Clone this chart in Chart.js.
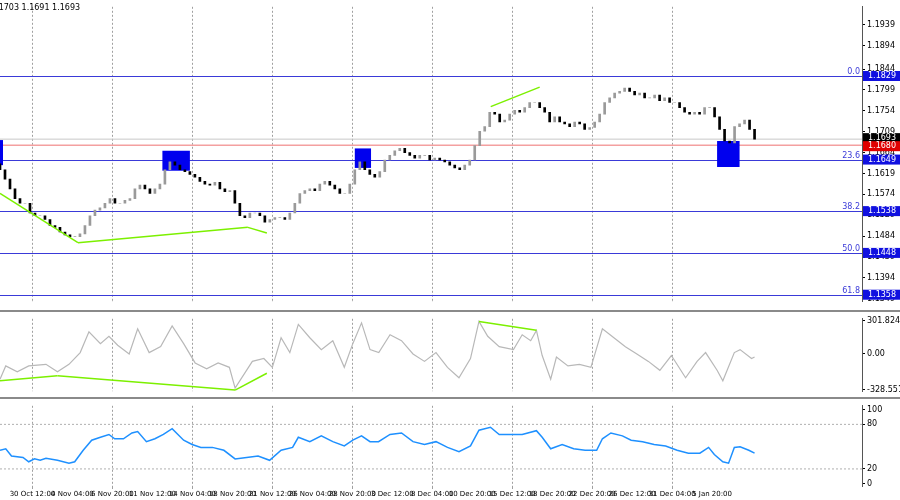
<!DOCTYPE html>
<html><head><meta charset="utf-8">
<script src="https://cdn.jsdelivr.net/npm/chart.js@4"></script>
<style>
html,body{margin:0;padding:0;background:#fff;}
#wrap{position:relative;width:900px;height:500px;overflow:hidden;font-family:Tahoma,"DejaVu Sans",sans-serif;}
.pane{position:absolute;left:0;width:900px;}
#p1{top:0;height:308px;}
#p2{top:310px;height:86px;border-top:2px solid #8a8a8a;}
#p3{top:397px;height:103px;border-top:2px solid #8a8a8a;}
</style></head><body>
<div id="wrap">
<div class="pane" id="p1"><canvas id="c1"></canvas></div>
<div class="pane" id="p2"><canvas id="c2"></canvas></div>
<div class="pane" id="p3"><canvas id="c3"></canvas></div>
</div>
<script>
// --- data (4H EURUSD, one candle = 2 bar slots) ---
const OPEN0 = 1.1640;
const CLOSE = [
 1.1627,1.1607,1.1586,1.1565,1.1555,1.1555,1.1534,1.1528,1.1528,1.1520,1.1507,1.1503,1.1493,1.1487,1.1483,1.1483,
 1.1489,1.1507,1.1528,1.1540,1.1545,1.1555,1.1565,1.1555,1.1555,1.1561,1.1565,1.1586,1.1594,1.1586,1.1576,1.1586,
 1.1596,1.1627,1.1644,1.1637,1.1627,1.1623,1.1617,1.1611,1.1602,1.1596,1.1594,1.1600,1.1586,1.1580,1.1582,1.1555,
 1.1528,1.1524,1.1534,1.1534,1.1528,1.1514,1.1520,1.1524,1.1524,1.1520,1.1534,1.1555,1.1576,1.1582,1.1586,1.1582,
 1.1596,1.1602,1.1594,1.1586,1.1576,1.1576,1.1596,1.1627,1.1644,1.1627,1.1617,1.1611,1.1623,1.1648,1.1658,1.1668,
 1.1673,1.1664,1.1658,1.1652,1.1658,1.1658,1.1648,1.1652,1.1648,1.1644,1.1637,1.1631,1.1627,1.1637,1.1648,1.1679,
 1.1710,1.1720,1.1751,1.1747,1.1730,1.1734,1.1747,1.1755,1.1751,1.1761,1.1772,1.1772,1.1761,1.1751,1.1730,1.1741,
 1.1730,1.1726,1.1720,1.1730,1.1726,1.1714,1.1718,1.1730,1.1747,1.1772,1.1782,1.1792,1.1796,1.1803,1.1796,1.1788,
 1.1792,1.1782,1.1782,1.1788,1.1776,1.1782,1.1772,1.1772,1.1761,1.1751,1.1747,1.1751,1.1747,1.1761,1.1761,1.1741,
 1.1714,1.1689,1.1685,1.1720,1.1726,1.1734,1.1714,1.1693
];
const CCI_X = [0,2.3,6.9,11.5,18.4,23,27.6,32.1,35.6,40.2,43.6,47.1,51.7,55.1,59.7,64.3,68.9,73.5,78.1,82.7,87.3,91.8,94.1,101,105.6,109,112.5,116,119.4,124,128.6,133.2,137.8,141.2,144.7,148.1,151.6,156.1,160.7,165.3,169.9,174.5,179.1,183.7,188.3,191.7,195.2,199.8,205.5,209,212.4,214.7,217,220.4,222.7,227.3,231.9,236.5,241.1,245.7,250.3,254.9,259.5,264.1,268.7,274.4,279,282.4,287,289.3,293.9,296.2,300.8,302];
const CCI = [-231,-110,-164,-110,-96,-164,-96,11,200,92,159,78,-2,227,11,65,254,92,-83,-137,-83,-123,-312,-69,-43,-123,146,11,267,146,38,119,-123,92,281,38,11,173,119,-2,-69,11,-123,-218,-43,294,159,65,38,173,119,213,-16,-231,-29,-110,-96,-123,227,146,65,-2,-69,-150,-16,-218,-69,11,-150,-245,11,38,-43,-29];
const RSI_X = [0,10,20,40,50,60,70,80,100,120,130,145,160,175,190,200,215,230,240,255,270,285,300,320,335,350,370,390,410,430,450,470,490,510,520,540,560,580,600,615,630,645,660,680,700,720,740,760,780,800,820,835,855,870,890,910,935,945,960,980,1000,1020,1040,1050,1065,1085,1100,1120,1140,1160,1180,1200,1220,1235,1245,1260,1270,1280,1290,1305,1315].map(v => +(v / 4.355).toFixed(1));
const RSI = [45.1,47.1,37.4,35.4,29.6,33.5,31.6,34.3,31.6,27.7,29.6,45.1,58.7,62.6,66.4,60.6,60.6,68.4,70.3,56.7,60.6,66.4,74.2,58.7,52.9,49,49,45.1,33.5,35.4,37.4,31.6,45.1,49,62.6,56.7,64.5,56.7,50.9,58.7,64.5,56.7,56.7,66.4,68.4,56.7,52.9,56.7,49,43.2,50.9,72.2,76.1,66.4,66.4,66.4,71.5,62.6,47.1,52.9,47.1,45.1,45.1,60.6,68.4,64.5,58.7,56.7,52.9,50.9,45.1,41.2,41.2,49,39.3,29.6,27.7,49,49.8,45.1,41.2];
const PRICE_TICKS = [1.1939,1.1894,1.1844,1.1799,1.1754,1.1709,1.1664,1.1619,1.1574,1.1529,1.1484,1.1439,1.1394,1.1349];
const CCI_TICKS = [-328.551, 0, 301.8242];
const RSI_TICKS = [0, 20, 80, 100];
const DATE_LABELS = ['30 Oct 12:00','4 Nov 04:00','6 Nov 20:00','11 Nov 12:00','14 Nov 04:00','18 Nov 20:00','21 Nov 12:00','26 Nov 04:00','28 Nov 20:00','3 Dec 12:00','8 Dec 04:00','10 Dec 20:00','15 Dec 12:00','18 Dec 20:00','22 Dec 20:00','26 Dec 12:00','31 Dec 04:00','5 Jan 20:00'];
const FIBO = [['0.0',1.1829],['23.6',1.1649],['38.2',1.1538],['50.0',1.1448],['61.8',1.1358]];
const BOXES = [[-1,1.2,1.1691,1.1637],[65,76,1.1668,1.1625],[142,148.5,1.1673,1.1631],[287,296,1.1689,1.1633]];
const PRICE_TREND = [[[0,1.1576],[31.2,1.1470]],[[31.2,1.1470],[99.2,1.1503]],[[99.2,1.1503],[106.8,1.1491]],[[196.4,1.1763],[216,1.1805]]];
const CCI_TREND = [[[0,-245],[23,-199]],[[23,-199],[94.1,-330]],[[94.1,-330],[106.8,-177]],[[191.7,294],[214.7,213]]];

const FONT = {family: 'Tahoma, "DejaVu Sans", sans-serif', size: 8};
const XFONT = {family: 'Tahoma, "DejaVu Sans", sans-serif', size: 7};
const XMAX = 345;
const DATE_IDX = DATE_LABELS.map((_, i) => 13 + 16 * i);

const bodies = CLOSE.map((c, i) => ({x: 2 * i, y: [i ? CLOSE[i - 1] : OPEN0, c]}));

function xScale(showLabels) {
    return {
        type: 'linear', min: 0, max: XMAX, offset: false,
        afterBuildTicks: s => { s.ticks = DATE_IDX.map(v => ({value: v})); },
        afterFit: s => { s.height = showLabels ? 16 : 0; },
        ticks: {display: showLabels, font: XFONT, color: '#000', maxRotation: 0, autoSkip: false, padding: 1,
                callback: (v) => DATE_LABELS[DATE_IDX.indexOf(v)] || ''},
        grid: {offset: false, color: c => (c.index % 2 === 0 ? '#a0a0a0' : 'rgba(0,0,0,0)'), tickLength: showLabels ? 3 : 0, lineWidth: 1},
        border: {display: false, dash: [2, 2]}
    };
}
function yScale(min, max, ticks, fmt) {
    return {
        position: 'right', min, max,
        afterBuildTicks: s => { s.ticks = ticks.map(v => ({value: v})); },
        afterFit: s => { s.width = 38; },
        ticks: {font: FONT, color: '#000', padding: 2, callback: fmt},
        grid: {drawOnChartArea: false, tickLength: 3, color: '#000'},
        border: {display: true, color: '#555', width: 1}
    };
}

function line(ctx, x, y, x2, y2, color, w, dash) {
    ctx.save(); ctx.strokeStyle = color; ctx.lineWidth = w; ctx.setLineDash(dash || []);
    ctx.beginPath(); ctx.moveTo(x, y); ctx.lineTo(x2, y2); ctx.stroke(); ctx.restore();
}
function tag(ctx, ca, y, text, bg) {
    ctx.fillStyle = bg; ctx.fillRect(ca.right + 1, y - 5, 37, 10);
    ctx.fillStyle = '#fff'; ctx.font = '8px Tahoma, "DejaVu Sans", sans-serif';
    ctx.textBaseline = 'middle'; ctx.textAlign = 'left'; ctx.fillText(text, ca.right + 6, y);
}

const priceDraw = {
    id: 'priceDraw',
    beforeDatasetsDraw(chart) {
        const {ctx, chartArea: ca, scales: {x, y}} = chart;
        line(ctx, ca.left, y.getPixelForValue(1.1693), ca.right, y.getPixelForValue(1.1693), '#c8c8c8', 1);
        line(ctx, ca.left, y.getPixelForValue(1.1680), ca.right, y.getPixelForValue(1.1680), '#f4a0a0', 1.5);
        FIBO.forEach(([lbl, v]) => {
            const py = Math.round(y.getPixelForValue(v)) + 0.5;
            line(ctx, ca.left, py, ca.right, py, '#3a3ad8', 1);
            ctx.fillStyle = '#3a3ad8'; ctx.font = '8px Tahoma, "DejaVu Sans", sans-serif';
            ctx.textAlign = 'right'; ctx.textBaseline = 'bottom'; ctx.fillText(lbl, ca.right - 2, py - 1);
        });
        BOXES.forEach(([a, b, hi, lo]) => {
            ctx.fillStyle = '#0000ee';
            const x1 = x.getPixelForValue(a), y1 = y.getPixelForValue(hi);
            ctx.fillRect(x1, y1, x.getPixelForValue(b) - x1, y.getPixelForValue(lo) - y1);
        });
    },
    afterDatasetsDraw(chart) {
        const {ctx, chartArea: ca, scales: {x, y}} = chart;
        PRICE_TREND.forEach(([p, q]) => line(ctx, x.getPixelForValue(p[0]), y.getPixelForValue(p[1]),
            x.getPixelForValue(q[0]), y.getPixelForValue(q[1]), '#7cf000', 1.5));
        FIBO.forEach(([, v]) => tag(ctx, ca, y.getPixelForValue(v), v.toFixed(4), '#1010e0'));
        tag(ctx, ca, y.getPixelForValue(1.1693) - 1, '1.1693', '#000');
        tag(ctx, ca, y.getPixelForValue(1.1680) + 1, '1.1680', '#e00000');
        ctx.fillStyle = '#000'; ctx.font = '8px Tahoma, "DejaVu Sans", sans-serif';
        ctx.textAlign = 'left'; ctx.textBaseline = 'top'; ctx.fillText('1.1703 1.1691 1.1693', -9, 4);
    }
};
const cciDraw = {
    id: 'cciDraw',
    afterDatasetsDraw(chart) {
        const {ctx, scales: {x, y}} = chart;
        CCI_TREND.forEach(([p, q]) => line(ctx, x.getPixelForValue(p[0]), y.getPixelForValue(p[1]),
            x.getPixelForValue(q[0]), y.getPixelForValue(q[1]), '#7cf000', 1.5));
    }
};
const rsiDraw = {
    id: 'rsiDraw',
    beforeDatasetsDraw(chart) {
        const {ctx, chartArea: ca, scales: {y}} = chart;
        [80, 20].forEach(v => line(ctx, ca.left, y.getPixelForValue(v), ca.right, y.getPixelForValue(v), '#b0b0b0', 1, [2, 2]));
    }
};

const common = {
    responsive: true, maintainAspectRatio: false, animation: false,
    layout: {padding: 0},
    plugins: {legend: {display: false}, tooltip: {enabled: false}}
};

new Chart(document.getElementById('c1'), {
    type: 'bar',
    data: {datasets: [{
        data: bodies, parsing: {xAxisKey: 'x', yAxisKey: 'y'},
        backgroundColor: bodies.map(b => (b.y[1] >= b.y[0] ? '#9a9a9a' : '#000')),
        barThickness: 2, grouped: false, borderSkipped: false
    }]},
    options: {...common,
        scales: {x: xScale(false), y: yScale(1.1344, 1.1978, PRICE_TICKS, v => v.toFixed(4))}},
    plugins: [priceDraw]
});

new Chart(document.getElementById('c2'), {
    type: 'line',
    data: {datasets: [{data: CCI_X.map((v, i) => ({x: v, y: CCI[i]})), borderColor: '#b8b8b8', borderWidth: 1.2, pointRadius: 0, tension: 0}]},
    options: {...common, scales: {x: xScale(false), y: yScale(-340, 318, CCI_TICKS, v => (v === 0 ? '0.00' : String(v)))}},
    plugins: [cciDraw]
});

new Chart(document.getElementById('c3'), {
    type: 'line',
    data: {datasets: [{data: RSI_X.map((v, i) => ({x: v, y: RSI[i]})), borderColor: '#1e90ff', borderWidth: 1.5, pointRadius: 0, tension: 0}]},
    options: {...common, scales: {x: xScale(true), y: yScale(-3, 105, RSI_TICKS, v => String(v))}},
    plugins: [rsiDraw]
});
</script>
</body></html>
